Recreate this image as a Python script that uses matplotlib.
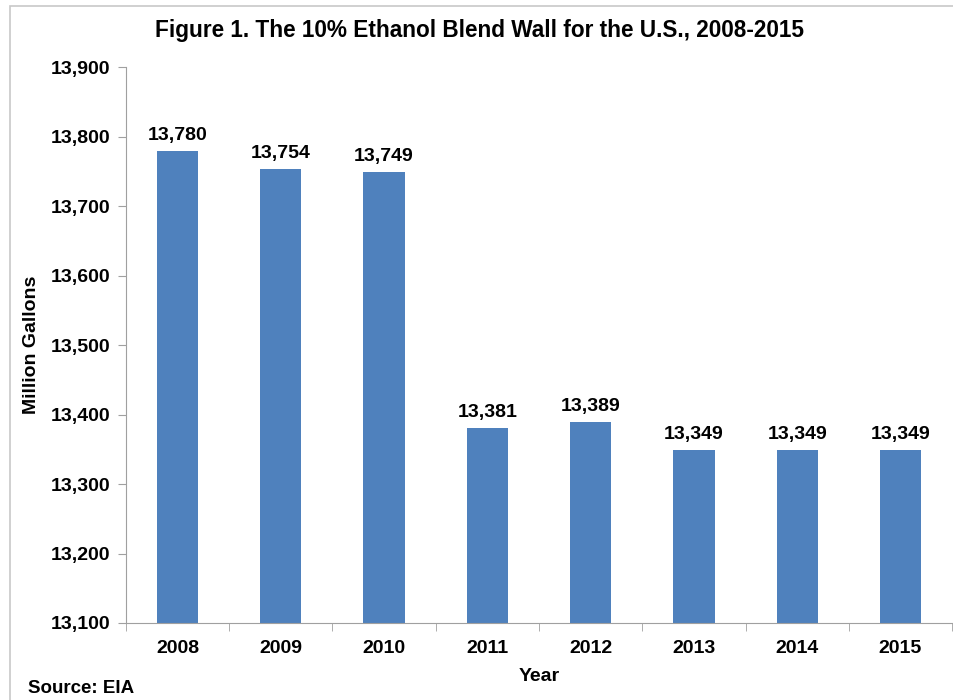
import matplotlib.pyplot as plt
from matplotlib.patches import Rectangle
from matplotlib.ticker import FuncFormatter, FixedLocator

years = ["2008", "2009", "2010", "2011", "2012", "2013", "2014", "2015"]
gallons = [13780, 13754, 13749, 13381, 13389, 13349, 13349, 13349]

plt.rcParams["font.family"] = ["Liberation Sans", "DejaVu Sans"]
plt.rcParams["font.weight"] = "bold"

fig = plt.figure(figsize=(9.54, 7), dpi=100)
ax = fig.add_axes([0.132, 0.110, 0.866, 0.794])

x = range(len(years))
bars = ax.bar(x, gallons, width=0.4, color="#4F81BD")
for xi, v in zip(x, gallons):
    ax.text(xi, v + 10, f"{v:,}", ha="center", va="bottom", fontsize=14, fontweight="bold")

ax.set_ylim(13100, 13900)
ax.set_xlim(-0.5, len(years) - 0.5)
ax.yaxis.set_major_formatter(FuncFormatter(lambda v, p: f"{int(v):,}"))
ax.set_yticks(range(13100, 13901, 100))
ax.set_xticks(list(x))
ax.set_xticklabels(years)
ax.xaxis.set_minor_locator(FixedLocator([i - 0.5 for i in range(len(years) + 1)]))
ax.tick_params(axis="x", which="major", length=0, pad=12, labelsize=14)
ax.tick_params(axis="x", which="minor", length=6, color="#a0a0a0", direction="out")
ax.tick_params(axis="y", length=6, color="#a0a0a0", labelsize=14, pad=5)
for s in ["top", "right"]:
    ax.spines[s].set_visible(False)
for s in ["left", "bottom"]:
    ax.spines[s].set_color("#a0a0a0")

ax.set_ylabel("Million Gallons", fontsize=14, fontweight="bold", labelpad=8)
ax.set_xlabel("Year", fontsize=14, fontweight="bold", labelpad=8)
fig.text(0.503, 0.957, "Figure 1. The 10% Ethanol Blend Wall for the U.S., 2008-2015",
         ha="center", va="center", fontsize=16.3, fontweight="bold")
fig.text(0.029, 0.017, "Source: EIA", ha="left", va="center", fontsize=13.5, fontweight="bold")

fig.patches.append(Rectangle((10 / 954, -0.01), 1.0, 1 - 6 / 700 + 0.01, transform=fig.transFigure,
                             fill=False, edgecolor="#c8c8c8", linewidth=1.2))

fig.savefig("out.png", dpi=100)
